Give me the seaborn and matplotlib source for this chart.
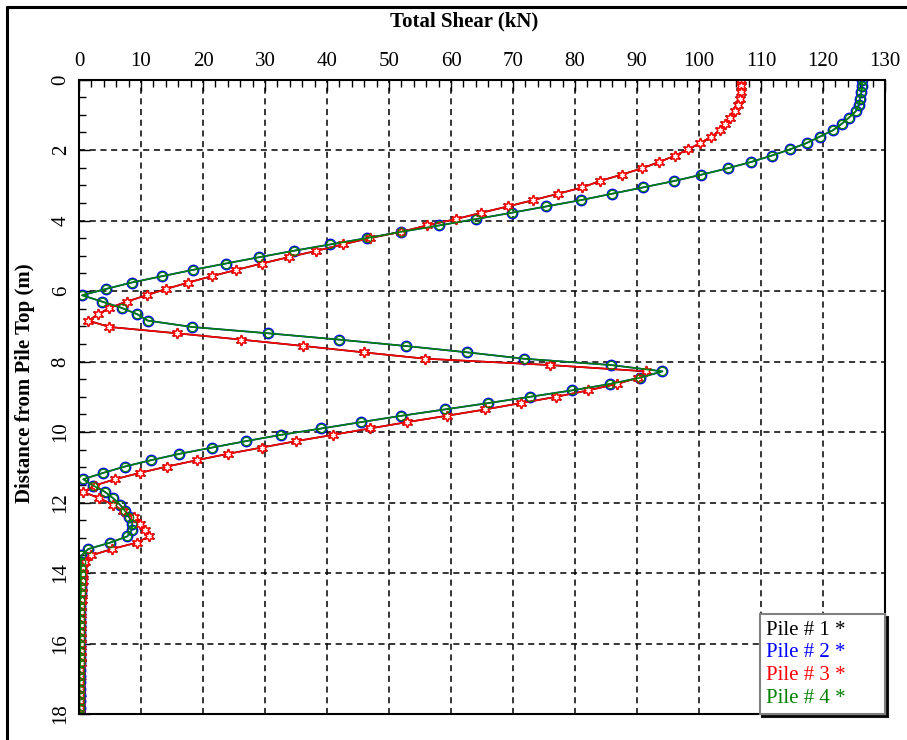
import matplotlib
matplotlib.use("Agg")
import matplotlib.pyplot as plt
import pandas as pd
import seaborn as sns
from matplotlib.lines import Line2D
from matplotlib.ticker import MultipleLocator

# Node depths along the pile (m)
depth_m = [
    0.00, 0.18, 0.36, 0.54, 0.72, 0.90, 1.08, 1.26, 1.44, 1.62,
    1.80, 1.98, 2.16, 2.34, 2.52, 2.70, 2.88, 3.06, 3.24, 3.42,
    3.60, 3.78, 3.96, 4.14, 4.32, 4.50, 4.68, 4.86, 5.04, 5.22,
    5.40, 5.58, 5.76, 5.94, 6.12, 6.30, 6.48, 6.66, 6.84, 7.02,
    7.20, 7.38, 7.56, 7.74, 7.92, 8.10, 8.28, 8.46, 8.64, 8.82,
    9.00, 9.18, 9.36, 9.54, 9.72, 9.90, 10.08, 10.26, 10.44, 10.62,
    10.80, 10.98, 11.16, 11.34, 11.52, 11.70, 11.88, 12.06, 12.24, 12.42,
    12.60, 12.78, 12.96, 13.14, 13.32, 13.50, 13.68, 13.86, 14.04, 14.22,
    14.40, 14.58, 14.76, 14.94, 15.12, 15.30, 15.48, 15.66, 15.84, 16.02,
    16.20, 16.38, 16.56, 16.74, 16.92, 17.10, 17.28, 17.46, 17.64, 17.82,
    18.00,
]

# Total shear (kN) for piles 1 and 3
shear_piles_1_3 = [
    106.8, 106.8, 106.7, 106.6, 106.3, 105.8, 105.0, 104.2, 103.4, 102.0,
    100.2, 98.3, 96.1, 93.6, 90.8, 87.5, 84.0, 81.2, 77.3, 73.3,
    69.2, 64.9, 60.8, 56.1, 52.0, 46.9, 42.5, 38.3, 33.8, 29.5,
    25.4, 21.4, 17.6, 14.1, 10.9, 7.7, 4.9, 3.1, 1.5, 4.9,
    15.8, 26.2, 36.2, 45.9, 55.8, 75.9, 91.5, 90.2, 86.7, 82.1,
    77.0, 71.3, 65.5, 59.3, 52.9, 46.9, 41.0, 35.0, 29.5, 24.0,
    19.0, 14.2, 9.8, 5.8, 2.5, 0.7, 3.3, 5.5, 7.1, 8.8,
    9.8, 10.6, 11.3, 9.3, 5.3, 2.0, 0.9, 0.7, 0.6, 0.6,
    0.5, 0.5, 0.5, 0.4, 0.4, 0.4, 0.4, 0.3, 0.3, 0.3,
    0.3, 0.3, 0.3, 0.2, 0.2, 0.2, 0.2, 0.2, 0.2, 0.2,
    0.2,
]

# Total shear (kN) for piles 2 and 4
shear_piles_2_4 = [
    126.3, 126.3, 126.2, 126.0, 125.8, 125.3, 124.2, 123.0, 121.6, 119.5,
    117.4, 114.7, 111.7, 108.4, 104.6, 100.4, 96.0, 91.0, 86.0, 81.0,
    75.4, 69.8, 64.0, 58.1, 52.0, 46.4, 40.5, 34.6, 29.1, 23.7,
    18.4, 13.4, 8.5, 4.4, 0.5, 3.7, 6.9, 9.4, 11.1, 18.2,
    30.5, 42.0, 52.7, 62.6, 71.7, 85.8, 94.1, 90.5, 85.6, 79.5,
    72.8, 66.0, 59.0, 52.0, 45.5, 39.1, 32.6, 26.9, 21.5, 16.2,
    11.6, 7.4, 3.9, 0.7, 2.3, 4.2, 5.5, 6.6, 7.4, 8.1,
    8.6, 8.5, 7.8, 5.0, 1.5, 0.4, 0.3, 0.3, 0.3, 0.3,
    0.3, 0.3, 0.2, 0.2, 0.2, 0.2, 0.2, 0.2, 0.2, 0.2,
    0.2, 0.2, 0.2, 0.1, 0.1, 0.1, 0.1, 0.1, 0.1, 0.1,
    0.1,
]

pile_labels = ["Pile # 1 *", "Pile # 2 *", "Pile # 3 *", "Pile # 4 *"]
pile_colors = ["black", "blue", "red", "green"]
pile_series = [shear_piles_1_3, shear_piles_2_4, shear_piles_1_3, shear_piles_2_4]

x_ticks = list(range(0, 131, 10))
y_ticks = list(range(0, 19, 2))

sns.set_theme(style="white")
plt.rcParams["font.family"] = ["Liberation Serif", "DejaVu Serif"]

W, H = 907, 740
fig = plt.figure(figsize=(W / 100, H / 100), dpi=100)
fig.patch.set_facecolor("white")
ax = fig.add_axes([79 / W, 1 - 714 / H, (885 - 79) / W, (714 - 79.5) / H])
ax.set_facecolor("white")

marker_styles = [
    dict(marker=(6, 2, 0), markersize=8, markeredgewidth=1.0,
         markerfacecolor="black", markeredgecolor="black"),
    dict(marker="o", markersize=7.5, markeredgewidth=1.0,
         markerfacecolor="none", markeredgecolor="blue"),
    dict(marker=(6, 1, 0), markersize=7.5, markeredgewidth=1.1,
         markerfacecolor="white", markeredgecolor="red"),
    dict(marker="o", markersize=6, markeredgewidth=0.9,
         markerfacecolor="none", markeredgecolor="green"),
]

for values, color, style in zip(pile_series, pile_colors, marker_styles):
    df = pd.DataFrame({"depth": depth_m, "shear": values})
    sns.lineplot(data=df, x="shear", y="depth", orient="y", sort=False,
                 estimator=None, color=color, linewidth=1.2, legend=False,
                 ax=ax, **style)

ax.set_xlim(0, 130)
ax.set_ylim(18, 0)
ax.set_xlabel("")
ax.set_ylabel("")
ax.xaxis.tick_top()
ax.set_xticks(x_ticks)
ax.set_yticks(y_ticks)
ax.xaxis.set_minor_locator(MultipleLocator(2))
ax.yaxis.set_minor_locator(MultipleLocator(0.5))
ax.tick_params(which="both", direction="in", top=True, bottom=False,
               left=True, right=False, labeltop=True, labelbottom=False,
               color="black", width=1.0)
ax.tick_params(which="major", length=8, pad=6, labelsize=15, labelcolor="black")
ax.tick_params(which="minor", length=5)
ax.tick_params(axis="y", labelrotation=90)
for lab in ax.get_yticklabels():
    lab.set_verticalalignment("center")

ax.grid(True, which="major", color="black", linestyle=(0, (4, 3)), linewidth=1.1)
ax.grid(False, which="minor")
ax.set_axisbelow(True)
for sp in ax.spines.values():
    sp.set_visible(True)
    sp.set_color("black")
    sp.set_linewidth(1.5)

fig.text(464 / W, 1 - 21 / H, "Total Shear (kN)", ha="center", va="center",
         fontsize=15, fontweight="bold", color="black")
fig.text(25 / W, 1 - 383 / H, "Distance from Pile Top (m)", ha="center",
         va="center", rotation=90, fontsize=15, fontweight="bold", color="black")

handles = [Line2D([], [], linestyle="none") for _ in pile_labels]
leg = ax.legend(handles, pile_labels, loc="lower right", borderaxespad=0,
                handlelength=1.4, handletextpad=0.2, markerfirst=False,
                labelcolor=pile_colors, fontsize=15, frameon=True,
                fancybox=False, edgecolor="gray", framealpha=1,
                shadow={"color": "black", "alpha": 0.9},
                borderpad=0.3, labelspacing=0.15)
leg.get_frame().set_linewidth(1.5)

# Outer frame lines
fig.add_artist(Line2D([7 / W, 7 / W], [0, 1 - 7 / H], transform=fig.transFigure,
                      color="black", linewidth=2.2))
fig.add_artist(Line2D([7 / W, 1], [1 - 7 / H, 1 - 7 / H], transform=fig.transFigure,
                      color="black", linewidth=2.2))

fig.savefig("out.png", dpi=100, facecolor="white")
